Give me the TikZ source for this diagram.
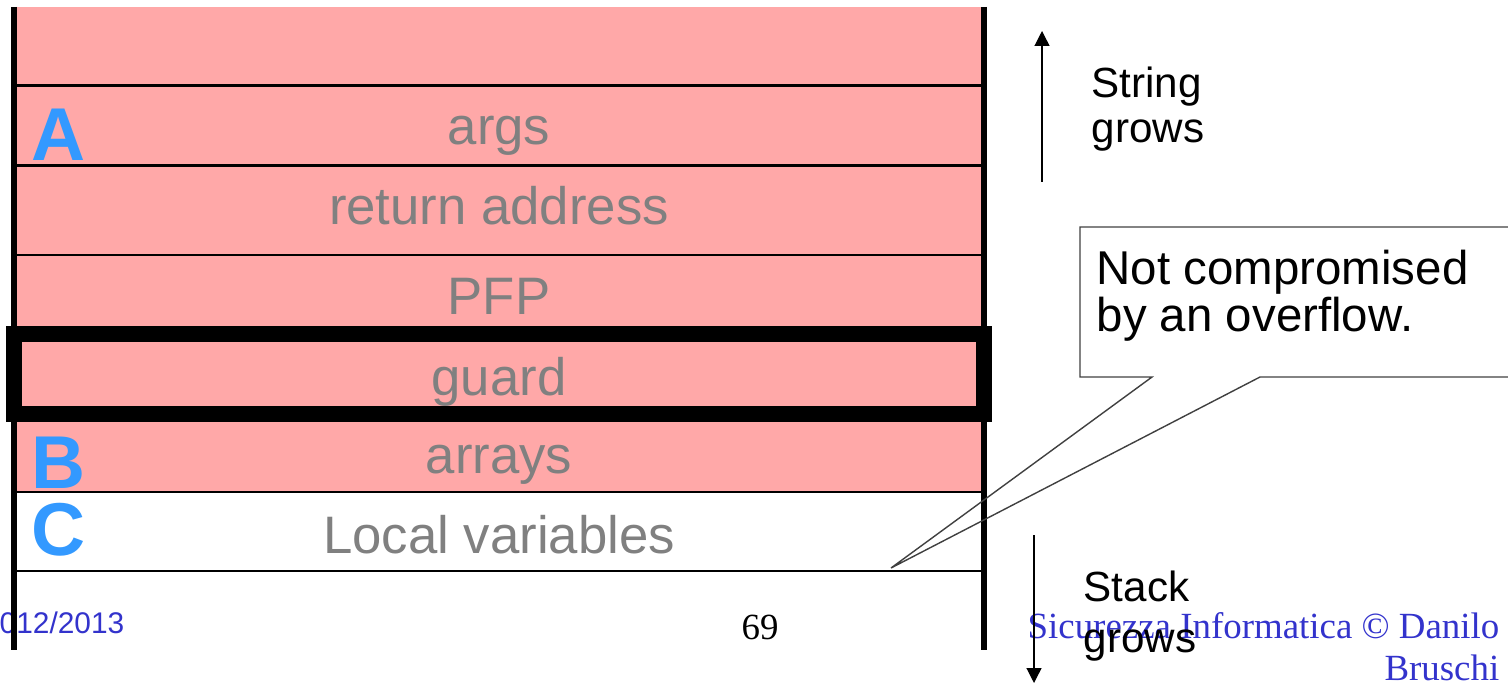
\documentclass[tikz,border=0pt]{standalone}
\usepackage{fontspec}
\setmainfont{Liberation Sans}
\newfontfamily\timesfont{Liberation Serif}
\usetikzlibrary{arrows.meta}
\definecolor{framepink}{HTML}{FFA8A8}
\definecolor{labelgray}{HTML}{808080}
\definecolor{letterblue}{HTML}{3399FF}
\definecolor{footblue}{HTML}{3333CC}

\begin{document}
\begin{tikzpicture}[anchor=base, inner sep=0pt,
    field/.style={text=labelgray, font=\fontsize{15}{18}\selectfont},
    zone/.style={anchor=base west, text=letterblue, font=\bfseries\fontsize{21.3}{24}\selectfont},
    growtext/.style={anchor=base west, font=\fontsize{12}{14}\selectfont},
    notetext/.style={anchor=base west, font=\fontsize{13.5}{16}\selectfont},
    growarrow/.style={line width=0.35pt, -{Triangle[length=0.15cm,width=0.15cm]}},
    foot/.style={text=footblue}]
    \useasboundingbox (0,0) rectangle (15.08,6.84);
    \clip (0,0) rectangle (15.08,6.84);
    %% footer (the frame lines go over it)
    \node[foot, anchor=base east, font=\fontsize{8.5}{10}\selectfont] (year) at (1.25,0.51) {012/2013};
    \node[font=\timesfont\fontsize{10.5}{12}\selectfont] (page) at (7.60,0.45) {69};
    \node[foot, anchor=base east, font=\timesfont\fontsize{10.5}{12}\selectfont] (credit1) at (15.00,0.46) {Sicurezza Informatica © Danilo};
    \node[foot, anchor=base east, font=\timesfont\fontsize{10.5}{12}\selectfont] (credit2) at (15.00,0.04) {Bruschi};
    %% stack frame
    \fill[framepink] (0.14,6.77) rectangle (9.84,1.92);
    \draw[line width=0.85pt] (0.14,5.985) -- (9.84,5.985) (0.14,5.185) -- (9.84,5.185)
        (0.14,4.29) -- (9.84,4.29) (0.14,1.92) -- (9.84,1.92) (0.14,1.13) -- (9.84,1.13);
    \draw[line width=1.7pt] (0.14,6.77) -- (0.14,0.34) (9.84,6.77) -- (9.84,0.34);
    \draw[line width=0.16cm] (0.14,3.50) rectangle (9.84,2.70);
    \node[field] (args) at (4.99,5.39) {args};
    \node[field] (ret) at (4.99,4.59) {return address};
    \node[field] (pfp) at (4.99,3.69) {PFP};
    \node[field] (guard) at (4.99,2.89) {guard};
    \node[field] (arrays) at (4.99,2.11) {arrays};
    \node[field] (locals) at (4.99,1.31) {Local variables};
    \node[zone] (zA) at (0.31,5.23) {A};
    \node[zone] (zB) at (0.31,1.96) {B};
    \node[zone] (zC) at (0.31,1.29) {C};
    %% growth directions
    \coordinate (up0) at (10.42,5.02); \coordinate (up1) at (10.42,6.53);
    \draw[growarrow] (up0) -- (up1);
    \node[growtext] (str1) at (10.91,5.86) {String};
    \node[growtext] (str2) at (10.91,5.41) {grows};
    \coordinate (dn0) at (10.34,1.49); \coordinate (dn1) at (10.34,0.01);
    \draw[growarrow] (dn0) -- (dn1);
    \node[growtext] (stk1) at (10.83,0.83) {Stack};
    \node[growtext] (stk2) at (10.83,0.32) {grows};
    %% callout
    \coordinate (tip) at (8.91,1.16);
    \draw[line width=0.4pt, black!75] (12.60,3.07) -- (tip) -- (11.52,3.07) -- (10.80,3.07)
        -- (10.80,4.57) -- (15.30,4.57) -- (15.30,3.07) -- cycle;
    \node[notetext] (note1) at (10.96,3.99) {Not compromised};
    \node[notetext] (note2) at (10.96,3.52) {by an overflow.};
\end{tikzpicture}
\end{document}
